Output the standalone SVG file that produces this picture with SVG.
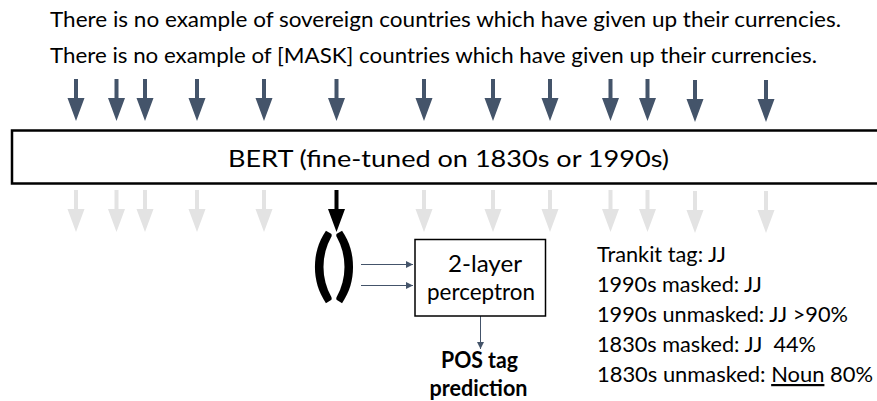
<svg xmlns="http://www.w3.org/2000/svg" width="877" height="401" viewBox="0 0 877 401">
  <style>
    .t { font-family: Lato, "Liberation Sans", sans-serif; fill: #000; }
    .s22 { font-size: 22px; }
    .bold { font-weight: bold; }
    .in { fill: #44546a; }
    .out { fill: #e3e3e3; }
    .sel { fill: #000; }
    .thin { stroke: #44546a; stroke-width: 1; fill: none; marker-end: url(#head); }
  </style>
  <defs>
    <marker id="head" markerUnits="userSpaceOnUse" markerWidth="8" markerHeight="7" refX="7" refY="3.5" orient="auto">
      <path d="M0,0 L7,3.5 L0,7 Z" fill="#44546a"/>
    </marker>
    <path id="arr" d="M-2,0 H2 V19 H8.5 L0,42 L-8.5,19 H-2 Z"/>
  </defs>
  <rect width="877" height="401" fill="#fff"/>

  <g id="sentences">
    <text class="t s22" x="50" y="27" textLength="791" lengthAdjust="spacingAndGlyphs">There is no example of sovereign countries which have given up their currencies.</text>
    <text class="t s22" x="50" y="63" textLength="767" lengthAdjust="spacingAndGlyphs">There is no example of [MASK] countries which have given up their currencies.</text>
  </g>

  <g id="bert">
    <rect x="12" y="130.5" width="880" height="53" fill="#fff" stroke="#000" stroke-width="2.5"/>
    <text class="t" font-size="24" x="228" y="167" textLength="441" lengthAdjust="spacingAndGlyphs">BERT (fine-tuned on 1830s or 1990s)</text>
  </g>

  <g id="connectors">
    <g id="input-arrows" class="in">
      <use href="#arr" x="76" y="79"/>
      <use href="#arr" x="116.5" y="79"/>
      <use href="#arr" x="145" y="79"/>
      <use href="#arr" x="197" y="79"/>
      <use href="#arr" x="264" y="79"/>
      <use href="#arr" x="336.5" y="79"/>
      <use href="#arr" x="424" y="79"/>
      <use href="#arr" x="493" y="79"/>
      <use href="#arr" x="550" y="79"/>
      <use href="#arr" x="610.5" y="79"/>
      <use href="#arr" x="647.5" y="79"/>
      <use href="#arr" x="695" y="80"/>
      <use href="#arr" x="766" y="80"/>
    </g>
    <g id="output-arrows" class="out">
      <use href="#arr" x="76" y="190"/>
      <use href="#arr" x="116.5" y="190"/>
      <use href="#arr" x="145" y="190"/>
      <use href="#arr" x="197" y="190"/>
      <use href="#arr" x="264" y="190"/>
      <use href="#arr" x="424" y="190"/>
      <use href="#arr" x="493" y="190"/>
      <use href="#arr" x="550" y="190"/>
      <use href="#arr" x="610.5" y="190"/>
      <use href="#arr" x="647.5" y="190"/>
      <use href="#arr" x="695" y="191"/>
      <use href="#arr" x="766" y="191"/>
    </g>
    <use id="selected-arrow" class="sel" href="#arr" x="336.5" y="190"/>
    <line class="thin" x1="361" y1="264.5" x2="413" y2="264.5"/>
    <line class="thin" x1="361" y1="285.5" x2="413" y2="285.5"/>
    <line class="thin" x1="480.5" y1="316" x2="480.5" y2="349"/>
  </g>

  <g id="embedding">
    <text class="t bold" font-size="76" x="312" y="291" textLength="44" lengthAdjust="spacingAndGlyphs">()</text>
  </g>

  <g id="perceptron">
    <rect x="415" y="239.5" width="130.5" height="76.5" fill="#fff" stroke="#000" stroke-width="1.5"/>
    <text class="t" font-size="24" x="448" y="272" textLength="74" lengthAdjust="spacingAndGlyphs">2-layer</text>
    <text class="t" font-size="24" x="427" y="300" textLength="108" lengthAdjust="spacingAndGlyphs">perceptron</text>
  </g>

  <g id="pos-output">
    <text class="t bold" font-size="23" x="441" y="368" textLength="77" lengthAdjust="spacingAndGlyphs">POS tag</text>
    <text class="t bold" font-size="23" x="429.5" y="396" textLength="98" lengthAdjust="spacingAndGlyphs">prediction</text>
  </g>

  <g id="results">
    <text class="t s22" x="597" y="262" textLength="129" lengthAdjust="spacingAndGlyphs">Trankit tag: JJ</text>
    <text class="t s22" x="597" y="292" textLength="165" lengthAdjust="spacingAndGlyphs">1990s masked: JJ</text>
    <text class="t s22" x="597" y="322" textLength="251" lengthAdjust="spacingAndGlyphs">1990s unmasked: JJ &gt;90%</text>
    <text class="t s22" x="597" y="352" textLength="219" lengthAdjust="spacingAndGlyphs" xml:space="preserve">1830s masked: JJ  44%</text>
    <text class="t s22" x="597" y="382" textLength="276" lengthAdjust="spacingAndGlyphs">1830s unmasked: <tspan text-decoration="underline">Noun</tspan> 80%</text>
  </g>
</svg>
